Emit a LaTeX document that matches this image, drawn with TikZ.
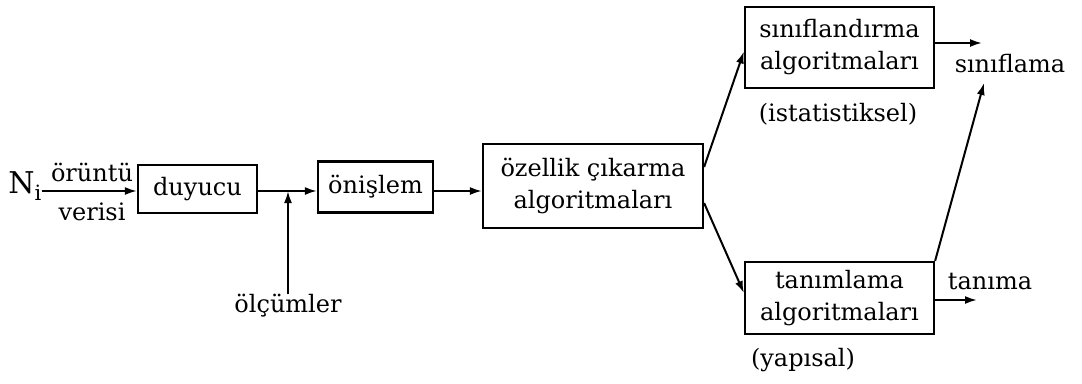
\documentclass[tikz,border=0pt]{standalone}
\usepackage{fontspec}
\setmainfont{DejaVu Serif}
\usetikzlibrary{arrows.meta,calc}
\tikzset{
  blk/.style={draw, line width=2.2pt, align=center, inner sep=0pt},
  lbl/.style={inner sep=0pt, align=center},
  conn/.style={line width=2pt, -{Latex[length=12pt,width=8pt]}},
}
\begin{document}
\begin{tikzpicture}[x=1pt,y=-1pt,font=\fontsize{24}{32}\selectfont]
\useasboundingbox (0,0) rectangle (1082,383);
% main chain
\node[lbl, font=\fontsize{30}{34}\selectfont] (ni) at (25,186) {N\textsubscript{i}};
\node[lbl] (orn) at (92,172) {örüntü};
\node[lbl] (ver) at (92,212) {verisi};
\node[blk, minimum width=119pt, minimum height=48pt] (duy) at (197.5,189) {duyucu};
\node[blk, minimum width=115pt, minimum height=51pt] (onis) at (375.5,187) {önişlem};
\node[blk, minimum width=220pt, minimum height=84pt] (oz) at (593,186) {özellik çıkarma\\algoritmaları};
\node[blk, minimum width=189pt, minimum height=81pt] (sb) at (839.5,47.5) {sınıflandırma\\algoritmaları};
\node[blk, minimum width=189pt, minimum height=72pt] (tb) at (839.5,298) {tanımlama\\algoritmaları};
\node[lbl] (ist) at (838,114) {(istatistiksel)};
\node[lbl] (yap) at (803,360) {(yapısal)};
\node[lbl] (olc) at (288,306) {ölçümler};
\node[lbl] (sinif) at (1010,64) {sınıflama};
\node[lbl] (tani) at (990,282) {tanıma};
% junction and free ends
\coordinate (jn) at (288,191);
\coordinate (o1) at (982,43);
\coordinate (o2) at (977,300);
\coordinate (sl) at (984,83);
% connectors
\draw[conn] (ni.east |- jn) -- (duy.west |- jn);
\draw[conn] (duy.east |- jn) -- (onis.west |- jn);
\draw[conn] (olc.north) -- (jn);
\draw[conn] (onis.east |- jn) -- (oz.west |- jn);
\draw[conn] ([yshift=19pt]oz.east) -- ([yshift=-4pt]sb.west);
\draw[conn] ([yshift=-17pt]oz.east) -- ([yshift=5pt]tb.west);
\draw[conn] (sb.east |- o1) -- (o1);
\draw[conn] (tb.east |- o2) -- (o2);
\draw[conn] (tb.north east) -- (sl);
\end{tikzpicture}
\end{document}
